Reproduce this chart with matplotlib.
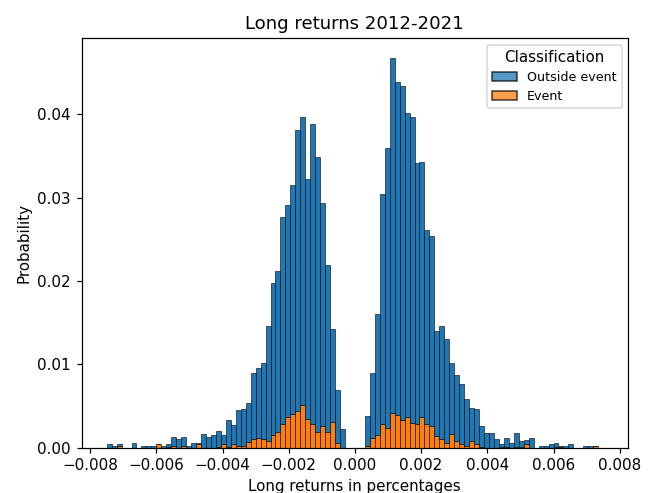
import matplotlib
matplotlib.use("Agg")
import numpy as np
import matplotlib.pyplot as plt
from matplotlib.patches import Patch

# Histogram bins: 100 equal bins spanning -0.0075 .. 0.0075
bin_start = -0.0075
bin_width = 0.00015
n_bins = 100

# Probability mass per bin, stacked: "Event" at the bottom, "Outside event" on top
outside_event = [
    0.0004, 0.0002, 0.0002, 0.0, 0.0, 0.0006, 0.0, 0.0002, 0.0002, 0.0002,
    0.0, 0.0002, 0.0003, 0.0011, 0.0011, 0.0011, 0.0002, 0.0006, 0.0002, 0.0017,
    0.0013, 0.0015, 0.0019, 0.0011, 0.0032, 0.0023, 0.0043, 0.0045, 0.0047, 0.0080,
    0.0084, 0.0091, 0.0138, 0.0183, 0.0193, 0.0249, 0.0254, 0.0275, 0.0337, 0.0346,
    0.0287, 0.0360, 0.0330, 0.0267, 0.0200, 0.0111, 0.0063, 0.0022, 0.0, 0.0,
    0.0, 0.0, 0.00365, 0.0078, 0.0145, 0.0276, 0.0335, 0.0425, 0.0399, 0.0401,
    0.0365, 0.0367, 0.0313, 0.0306, 0.0233, 0.0228, 0.01256, 0.0136, 0.0124, 0.0084,
    0.0079, 0.00716, 0.00564, 0.0040, 0.0042, 0.0025, 0.0018, 0.0018, 0.0011, 0.0004,
    0.0011, 0.0006, 0.0017, 0.0007, 0.0005, 0.0012, 0.0, 0.0002, 0.0002, 0.0004,
    0.0005, 0.0001, 0.0002, 0.0004, 0.0, 0.0, 0.0002, 0.0002, 0.0, 0.0,
]
event = [
    0.0, 0.0, 0.0002, 0.0, 0.0, 0.0, 0.0, 0.0, 0.0, 0.0,
    0.0004, 0.0, 0.0001, 0.0002, 0.0, 0.0002, 0.0, 0.0, 0.0004, 0.0,
    0.0, 0.0, 0.0001, 0.0004, 0.0001, 0.0004, 0.0002, 0.0002, 0.0007, 0.0010,
    0.0012, 0.0011, 0.0008, 0.0015, 0.0019, 0.0028, 0.0037, 0.0040, 0.0044, 0.0051,
    0.0035, 0.0028, 0.0019, 0.0026, 0.0019, 0.0031, 0.0006, 0.0, 0.0, 0.0,
    0.0, 0.0, 0.00015, 0.0012, 0.0015, 0.0028, 0.0024, 0.0042, 0.0039, 0.0033,
    0.0037, 0.0030, 0.0028, 0.0037, 0.0028, 0.0026, 0.00144, 0.0010, 0.0006, 0.0017,
    0.0008, 0.00044, 0.00016, 0.0008, 0.0004, 0.0001, 0.0, 0.0, 0.0, 0.0001,
    0.0001, 0.0, 0.0001, 0.0001, 0.0004, 0.0, 0.0, 0.0, 0.0, 0.0,
    0.0001, 0.0001, 0.0, 0.0, 0.0, 0.0, 0.0, 0.0, 0.0002, 0.0,
]

labels = ["Outside event", "Event"]
colors = ["#1f77b4", "#ff7f0e"]

x_ticks = [-0.008, -0.006, -0.004, -0.002, 0.0, 0.002, 0.004, 0.006, 0.008]
y_ticks = [0.00, 0.01, 0.02, 0.03, 0.04]

edges = bin_start + bin_width * np.arange(n_bins)
ev = np.array(event)
out = np.array(outside_event)

fig = plt.figure(figsize=(658 / 109, 493 / 109), dpi=109)
ax = fig.add_axes([0.1239, 0.0919, 0.8305, 0.8304])

bar_kw = dict(width=bin_width, align="edge", edgecolor=(0, 0, 0, 0.75), linewidth=0.5)
ax.bar(edges, ev, color=colors[1], **bar_kw)
ax.bar(edges, out, bottom=ev, color=colors[0], **bar_kw)

ax.set_xlim(-0.00826, 0.00825)
ax.set_ylim(0, 0.0491)
ax.set_xticks(x_ticks)
ax.set_yticks(y_ticks)
ax.set_xticklabels([f"{t:.3f}".replace("-", "\u2212") for t in x_ticks])
ax.set_yticklabels([f"{t:.2f}" for t in y_ticks])

ax.set_title("Long returns 2012-2021")
ax.set_xlabel("Long returns in percentages")
ax.set_ylabel("Probability")

handles = [Patch(facecolor=c, edgecolor="black", alpha=0.75, linewidth=1.0) for c in colors]
ax.legend(handles, labels, title="Classification", loc="upper right",
          fontsize=8.33, title_fontsize=10)

fig.savefig("out.png", dpi=109)
